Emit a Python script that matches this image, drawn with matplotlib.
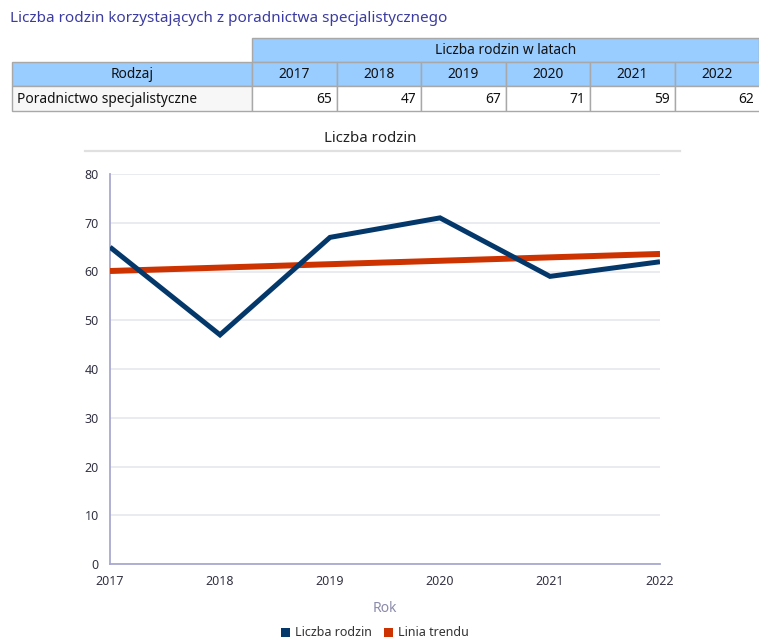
import matplotlib
matplotlib.use("Agg")
import matplotlib.pyplot as plt
from matplotlib.patches import Rectangle
from matplotlib.lines import Line2D

plt.rcParams['font.family'] = ['Noto Sans', 'DejaVu Sans']

# ---- data ----
page_title = "Liczba rodzin korzystających z poradnictwa specjalistycznego"
table_group_header = "Liczba rodzin w latach"
row_header = "Rodzaj"
row_label = "Poradnictwo specjalistyczne"
years = [2017, 2018, 2019, 2020, 2021, 2022]
values = [65, 47, 67, 71, 59, 62]
trend_years = [2017, 2022]
trend_values = [60.1, 63.6]
chart_title = "Liczba rodzin"
x_label = "Rok"
series_name = "Liczba rodzin"
trend_name = "Linia trendu"
y_ticks = [0, 10, 20, 30, 40, 50, 60, 70, 80]

W, H = 759, 641
fig = plt.figure(figsize=(W / 100, H / 100), dpi=100)

# overlay axes in pixel coordinates for table/title
ov = fig.add_axes([0, 0, 1, 1])
ov.set_xlim(0, W)
ov.set_ylim(H, 0)
ov.axis('off')

ov.text(10, 19, page_title, color='#3c3ca0', fontsize=11.0, va='center', ha='left')

blue = '#99ccff'
border = '#a8a8a8'
col_edges = [252, 337, 421, 506, 590, 675, 760]
r0, r1, r2, r3 = 38, 62, 86, 111
fs_tab = 9.9

# group header
ov.add_patch(Rectangle((252, r0), W - 252, r1 - r0, facecolor=blue, edgecolor=border, lw=1))
ov.text((252 + W) / 2, (r0 + r1) / 2 + 1, table_group_header, ha='center', va='center', fontsize=fs_tab, color='#111')
# Rodzaj header
ov.add_patch(Rectangle((12, r1), 252 - 12, r2 - r1, facecolor=blue, edgecolor=border, lw=1))
ov.text((12 + 252) / 2, (r1 + r2) / 2 + 1, row_header, ha='center', va='center', fontsize=fs_tab, color='#111')
# row label
ov.add_patch(Rectangle((12, r2), 252 - 12, r3 - r2, facecolor='#f7f7f7', edgecolor=border, lw=1))
ov.text(17, (r2 + r3) / 2 + 1, row_label, ha='left', va='center', fontsize=fs_tab, color='#111')
for i, (y, v) in enumerate(zip(years, values)):
    x0, x1 = col_edges[i], col_edges[i + 1]
    ov.add_patch(Rectangle((x0, r1), x1 - x0, r2 - r1, facecolor=blue, edgecolor=border, lw=1))
    ov.text((x0 + x1) / 2, (r1 + r2) / 2 + 1, str(y), ha='center', va='center', fontsize=fs_tab, color='#111')
    ov.add_patch(Rectangle((x0, r2), x1 - x0, r3 - r2, facecolor='white', edgecolor=border, lw=1))
    ov.text(min(x1, W) - 5, (r2 + r3) / 2 + 1, str(v), ha='right', va='center', fontsize=fs_tab, color='#111')

# chart title and rule
ov.text(370, 139, chart_title, ha='center', va='center', fontsize=10.8, color='#222')
ov.add_line(Line2D([85, 680], [151, 151], color='#e0e0e0', lw=1.6))

# ---- chart ----
ax = fig.add_axes([110 / W, 1 - 564 / H, 550 / W, 390 / H])
ax.set_zorder(2)
ax.patch.set_alpha(0)
ax.plot(trend_years, trend_values, color='#cc3300', lw=4.3, solid_capstyle='butt', zorder=3)
ax.plot(years, values, color='#04386b', lw=3.6, solid_joinstyle='miter', solid_capstyle='butt', zorder=4)
ax.set_xlim(years[0], years[-1])
ax.set_ylim(0, 80)
ax.set_yticks(y_ticks)
ax.set_xticks(years)
ax.set_xticklabels([str(y) for y in years])
ax.grid(axis='y', color='#e8e8f0', lw=1.3)
ax.set_axisbelow(True)
for s in ['top', 'right']:
    ax.spines[s].set_visible(False)
ax.spines['left'].set_color('#a9a9d0')
ax.spines['bottom'].set_color('#a9a9d0')
ax.spines['left'].set_linewidth(1.3)
ax.spines['bottom'].set_linewidth(1.3)
ax.tick_params(axis='both', length=0, labelsize=9, labelcolor='#333344')
ax.tick_params(axis='y', pad=8)
ax.tick_params(axis='x', pad=8)
ax.set_xlabel(x_label, color='#8a8aaa', fontsize=10, labelpad=9)

handles = [Rectangle((0, 0), 1, 1, facecolor='#04386b'),
           Rectangle((0, 0), 1, 1, facecolor='#cc3300')]
fig.legend(handles, [series_name, trend_name], loc='center', bbox_to_anchor=(375 / W, 1 - 633 / H),
           ncol=2, frameon=False, fontsize=9, handlelength=0.7, handleheight=0.7,
           handletextpad=0.4, columnspacing=1.0, labelcolor='#333')

fig.savefig('out.png', dpi=100)
